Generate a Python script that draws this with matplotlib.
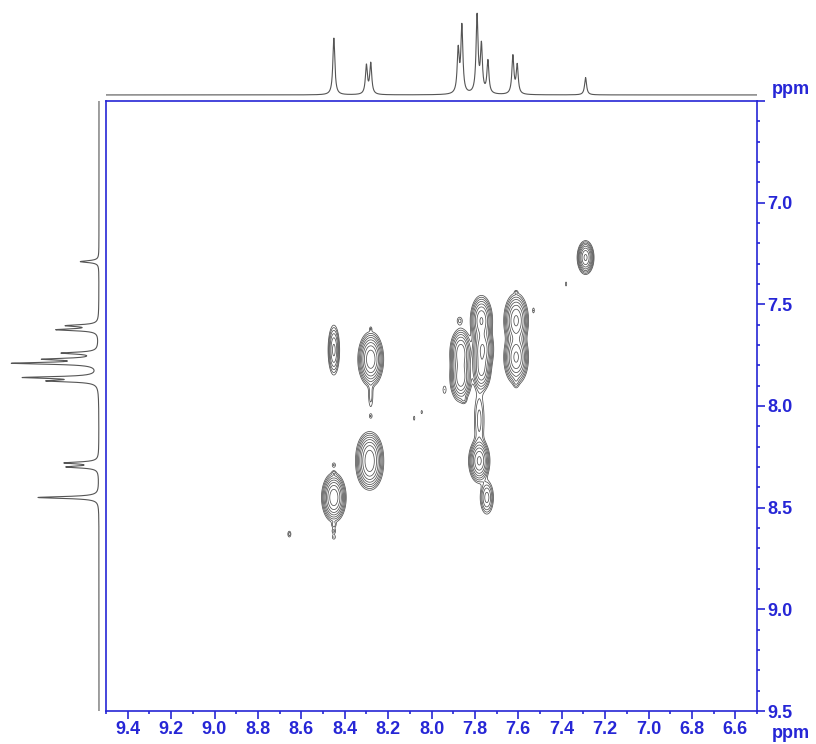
"""
cosy_map.py — 2D COSY contour map with 1H projections on top and left
"""
import numpy as np
import matplotlib
matplotlib.use('Agg')
import matplotlib.pyplot as plt
from matplotlib.ticker import MultipleLocator, FuncFormatter

plt.rcParams['font.family'] = ['Liberation Sans', 'DejaVu Sans']

# ── 1H trace: line positions (ppm) and peak heights (arb.) ──
H_PPM = [8.450, 8.300, 8.280, 7.877, 7.860, 7.790, 7.770, 7.740, 7.625, 7.605, 7.290]
H_INT = [170, 86, 92, 128, 200, 232, 140, 98, 114, 86, 52]
H_HWHM = 0.0055

# ── COSY cross/diagonal peaks: F2 (x), F1 (y), widths, amplitudes ──
PK_F2 = [8.450, 8.450, 8.450, 8.450, 8.450, 8.450, 8.450,
         8.280, 8.280, 8.280, 8.280, 8.285, 8.285,
         7.865, 7.865, 7.870, 7.850, 7.940,
         7.770, 7.765, 7.770, 7.780, 7.780, 7.745,
         7.610, 7.610, 7.610, 7.610,
         7.290, 8.655, 8.080, 8.045, 7.380, 7.530]
PK_F1 = [8.450, 8.585, 8.615, 8.645, 8.290, 8.330, 7.725,
         7.770, 7.950, 8.050, 7.620, 8.240, 8.300,
         7.740, 7.860, 7.580, 7.970, 7.920,
         7.580, 7.720, 7.820, 8.070, 8.270, 8.450,
         7.580, 7.760, 7.880, 7.440,
         7.270, 8.630, 8.060, 8.030, 7.400, 7.530]
PK_SX = [0.021, 0.007, 0.007, 0.007, 0.007, 0.006, 0.012,
         0.022, 0.008, 0.006, 0.004, 0.024, 0.024,
         0.020, 0.020, 0.010, 0.008, 0.007,
         0.020, 0.020, 0.018, 0.015, 0.019, 0.015,
         0.022, 0.022, 0.008, 0.005,
         0.015, 0.006, 0.003, 0.003, 0.003, 0.004]
PK_SY = [0.045, 0.010, 0.010, 0.010, 0.010, 0.008, 0.055,
         0.050, 0.045, 0.010, 0.008, 0.045, 0.045,
         0.048, 0.048, 0.015, 0.012, 0.018,
         0.048, 0.048, 0.045, 0.090, 0.042, 0.040,
         0.052, 0.052, 0.020, 0.006,
         0.032, 0.012, 0.010, 0.008, 0.010, 0.012]
PK_AMP = [40, 1.8, 1.8, 1.6, 1.6, 1.4, 12,
          40, 2.0, 1.5, 1.4, 25, 25,
          25, 25, 1.8, 1.6, 1.6,
          28, 28, 20, 3.0, 30, 8,
          30, 30, 1.8, 1.4,
          30, 2.0, 1.6, 1.6, 1.6, 1.6]

BLUE = '#2626d6'
TRACE = '#555555'
W, H = 816, 744

fig = plt.figure(figsize=(W / 100, H / 100), dpi=100)

def px_axes(x0, y0, x1, y1):
    # pixel box measured from top-left corner of the figure
    return fig.add_axes([x0 / W, 1 - y1 / H, (x1 - x0) / W, (y1 - y0) / H])

# ── build 2D map from peak list ──
xg = np.linspace(9.5, 6.5, 2000)
yg = np.linspace(6.5, 9.5, 1400)
X, Y = np.meshgrid(xg, yg)
Z = np.zeros_like(X)
for f2, f1, sx, sy, a in zip(PK_F2, PK_F1, PK_SX, PK_SY, PK_AMP):
    Z += a * np.exp(-0.5 * ((X - f2) / sx) ** 2 - 0.5 * ((Y - f1) / sy) ** 2)

levels = 1.0 * 1.6 ** np.arange(8)

ax = px_axes(106, 101, 757, 711)
ax.contour(X, Y, Z, levels=levels, colors='#505050', linewidths=0.55)
ax.set_xlim(9.5, 6.5)
ax.set_ylim(9.5, 6.5)

for s in ax.spines.values():
    s.set_color(BLUE)
    s.set_linewidth(1.2)

ax.xaxis.set_major_locator(MultipleLocator(0.2))
ax.xaxis.set_minor_locator(MultipleLocator(0.1))
ax.yaxis.set_major_locator(MultipleLocator(0.5))
ax.yaxis.set_minor_locator(MultipleLocator(0.1))
ax.xaxis.set_major_formatter(FuncFormatter(lambda v, p: f'{v:.1f}'))
ax.yaxis.set_major_formatter(FuncFormatter(lambda v, p: '' if v < 6.75 else f'{v:.1f}'))
ax.yaxis.tick_right()
ax.tick_params(which='both', direction='out', colors=BLUE, width=1.2,
               labelcolor=BLUE, labelsize=13, pad=1.5)
ax.tick_params(which='major', length=5.8)
ax.tick_params(which='minor', length=2.2)
ax.tick_params(axis='x', top=False, bottom=True)
ax.tick_params(axis='y', left=False, right=True)
for lab in ax.get_xticklabels() + ax.get_yticklabels():
    lab.set_fontweight('bold')

fig.text(772 / W, 1 - 733 / H, 'ppm', color=BLUE, fontsize=13, fontweight='bold', va='center', ha='left')
fig.text(772 / W, 1 - 89 / H, 'ppm', color=BLUE, fontsize=13, fontweight='bold', va='center', ha='left')

# ── 1H trace ──
ppm = np.linspace(9.5, 6.5, 6000)
trace = np.zeros_like(ppm)
for p0, h in zip(H_PPM, H_INT):
    trace += h / (1 + ((ppm - p0) / H_HWHM) ** 2)

ax_top = px_axes(106, 6, 757, 101)
ax_top.plot(ppm, trace, color=TRACE, lw=0.8)
ax_top.set_xlim(9.5, 6.5)
ax_top.set_ylim(-18.1, 266.2)
ax_top.axis('off')

ax_left = px_axes(0, 101, 101, 711)
ax_left.plot(trace, ppm, color=TRACE, lw=0.8)
ax_left.set_ylim(9.5, 6.5)
ax_left.set_xlim(276, -5.6)
ax_left.axis('off')

fig.savefig('out.png', dpi=100)
